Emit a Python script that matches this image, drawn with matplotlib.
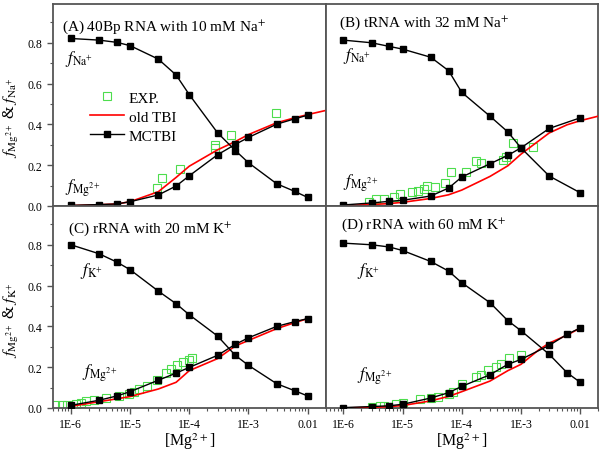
import matplotlib
matplotlib.use('Agg')
import matplotlib.pyplot as plt
from matplotlib.ticker import LogLocator, NullFormatter, MultipleLocator

plt.rcParams['font.family'] = 'Liberation Serif'
plt.rcParams['mathtext.fontset'] = 'stix'

# Mg2+ concentrations used by the MCTBI calculations
mg_conc = [1e-6, 3e-6, 6e-6, 1e-5, 3e-5, 6e-5, 1e-4, 3e-4, 6e-4, 1e-3, 3e-3, 6e-3, 1e-2]
mg_conc_b = [1e-6, 3e-6, 6e-6, 1e-5, 3e-5, 6e-5, 1e-4, 3e-4, 6e-4, 1e-3, 3e-3, 1e-2]
tbi_conc = [1e-6, 3e-6, 6e-6, 1e-5, 3e-5, 6e-5, 1e-4, 3e-4, 6e-4, 1e-3, 3e-3, 6e-3, 1e-2, 2e-2]
tbi_conc_d = [1e-6, 3e-6, 6e-6, 1e-5, 3e-5, 6e-5, 1e-4, 3e-4, 6e-4, 1e-3, 2e-3, 3e-3, 6e-3, 1e-2]

# (A) 40Bp RNA, 10 mM Na+
mono_a = [0.821, 0.813, 0.802, 0.786, 0.720, 0.642, 0.546, 0.359, 0.272, 0.212, 0.109, 0.072, 0.042]
mg_a = [0.003, 0.007, 0.010, 0.021, 0.054, 0.098, 0.148, 0.251, 0.302, 0.336, 0.401, 0.427, 0.445]
tbi_a = [0.002, 0.006, 0.010, 0.021, 0.070, 0.140, 0.195, 0.275, 0.316, 0.350, 0.408, 0.432, 0.448, 0.468]
exp_a_x = [2.9e-5, 3.5e-5, 7.1e-5, 2.75e-4, 2.7e-4, 5.0e-4, 2.95e-3]
exp_a_y = [0.090, 0.139, 0.179, 0.300, 0.282, 0.349, 0.458]

# (B) tRNA, 32 mM Na+
mono_b = [0.813, 0.800, 0.782, 0.769, 0.729, 0.663, 0.557, 0.440, 0.363, 0.285, 0.147, 0.065]
mg_b = [0.005, 0.015, 0.023, 0.028, 0.049, 0.088, 0.142, 0.207, 0.248, 0.285, 0.380, 0.432]
tbi_b = [0.002, 0.007, 0.012, 0.018, 0.037, 0.055, 0.078, 0.145, 0.197, 0.254, 0.358, 0.398, 0.418, 0.440]
exp_b_x = [2.7e-6, 3.5e-6, 4.9e-6, 7.2e-6, 9.1e-6, 1.45e-5, 1.86e-5, 2.3e-5, 2.6e-5, 3.5e-5,
           5.2e-5, 6.5e-5, 1.17e-4, 1.74e-4, 2.1e-4, 4.9e-4, 5.6e-4, 7.2e-4, 1.58e-3]
exp_b_y = [0.021, 0.034, 0.036, 0.045, 0.060, 0.070, 0.075, 0.082, 0.098, 0.092,
           0.115, 0.165, 0.165, 0.220, 0.210, 0.226, 0.241, 0.307, 0.290]

# (C) rRNA, 20 mM K+
mono_c = [0.800, 0.756, 0.715, 0.678, 0.573, 0.511, 0.457, 0.353, 0.258, 0.209, 0.119, 0.085, 0.059]
mg_c = [0.013, 0.038, 0.059, 0.080, 0.136, 0.171, 0.199, 0.258, 0.312, 0.344, 0.400, 0.423, 0.438]
tbi_c = [0.008, 0.031, 0.045, 0.056, 0.093, 0.126, 0.183, 0.242, 0.304, 0.331, 0.389, 0.418, 0.438]
exp_c_x = [5.5e-7, 7.1e-7, 8.7e-7, 1.2e-6, 1.5e-6, 1.8e-6, 2.5e-6, 3.9e-6, 6.5e-6, 9.5e-6,
           1.15e-5, 1.4e-5, 1.9e-5, 2.9e-5, 4.1e-5, 4.9e-5, 6.3e-5, 7.9e-5, 9.8e-5, 1.12e-4]
exp_c_y = [0.014, 0.014, 0.014, 0.021, 0.026, 0.033, 0.038, 0.049, 0.057, 0.070,
           0.078, 0.091, 0.106, 0.136, 0.173, 0.189, 0.209, 0.225, 0.237, 0.247]

# (D) rRNA, 60 mM K+
mono_d = [0.808, 0.800, 0.789, 0.772, 0.718, 0.671, 0.614, 0.516, 0.428, 0.379, 0.263, 0.173, 0.126]
mg_d = [0.002, 0.007, 0.011, 0.018, 0.049, 0.075, 0.106, 0.163, 0.214, 0.238, 0.307, 0.361, 0.392]
tbi_d = [0.000, 0.003, 0.007, 0.012, 0.035, 0.057, 0.080, 0.132, 0.183, 0.214, 0.285, 0.318, 0.357, 0.392]
exp_d_x = [3.1e-6, 4.1e-6, 4.9e-6, 7.8e-6, 1.0e-5, 2.0e-5, 3.0e-5, 3.9e-5, 6.2e-5, 7.1e-5,
           1.02e-4, 1.74e-4, 2.1e-4, 2.75e-4, 3.8e-4, 4.6e-4, 6.3e-4, 1.0e-3]
exp_d_y = [0.007, 0.011, 0.011, 0.020, 0.023, 0.044, 0.047, 0.052, 0.069, 0.077,
           0.117, 0.151, 0.161, 0.184, 0.200, 0.217, 0.245, 0.259]

x_ticks = [1e-6, 1e-5, 1e-4, 1e-3, 1e-2]
x_tick_labels = ['1E-6', '1E-5', '1E-4', '1E-3', '0.01']
y_ticks = [0.0, 0.2, 0.4, 0.6, 0.8]
y_tick_labels = ['0.0', '0.2', '0.4', '0.6', '0.8']

paneles = [
    ('(A) 40Bp RNA with 10 mM Na$^{+}$', 'Na', mg_conc, mono_a, mg_a, tbi_conc, tbi_a, exp_a_x, exp_a_y),
    ('(B) tRNA with 32 mM Na$^{+}$', 'Na', mg_conc_b, mono_b, mg_b, tbi_conc, tbi_b, exp_b_x, exp_b_y),
    ('(C) rRNA with 20 mM K$^{+}$', 'K', mg_conc, mono_c, mg_c, mg_conc, tbi_c, exp_c_x, exp_c_y),
    ('(D) rRNA with 60 mM K$^{+}$', 'K', mg_conc, mono_d, mg_d, tbi_conc_d, tbi_d, exp_d_x, exp_d_y),
]

# label positions (axes fraction): title, f_mono, f_Mg
pos_textos = [
    ((0.033, 0.872), (0.044, 0.713), (0.044, 0.074)),
    ((0.048, 0.890), (0.066, 0.728), (0.066, 0.099)),
    ((0.055, 0.872), (0.100, 0.663), (0.107, 0.158)),
    ((0.057, 0.890), (0.116, 0.663), (0.114, 0.144)),
]

fig, axs = plt.subplots(2, 2, figsize=(6.04, 4.56), dpi=100)
fig.subplots_adjust(left=53/604, right=598/604, top=1-5/456, bottom=1-409/456, wspace=0, hspace=0)

verde = '#4ddd4d'
for i, ax in enumerate(axs.flat):
    titulo, ion, xm, mono, mg, xt, tbi, ex, ey = paneles[i]
    ax.plot(ex, ey, 's', mfc='none', mec=verde, ms=5.5, mew=0.8, label='EXP.', zorder=2)
    ax.plot(xt, tbi, '-', color='red', lw=1.2, label='old TBI', zorder=3)
    ax.plot(xm, mono, '-s', color='black', lw=1.0, ms=4, zorder=4)
    ax.plot(xm, mg, '-s', color='black', lw=1.0, ms=4, label='MCTBI', zorder=4)

    ax.set_xscale('log')
    ax.set_xlim(5e-7, 2e-2)
    ax.set_ylim(0, 0.99)

    (tx, ty), (nx, ny), (mx, my) = pos_textos[i]
    ax.text(tx, ty, titulo, transform=ax.transAxes, fontsize=11, va='baseline')
    ax.text(nx, ny, r'$f_{\mathrm{%s}^{+}}$' % ion, transform=ax.transAxes, fontsize=12, va='baseline')
    ax.text(mx, my, r'$f_{\mathrm{Mg}^{2+}}$', transform=ax.transAxes, fontsize=12, va='baseline')

    for s in ax.spines.values():
        s.set_color('#555555')
        s.set_linewidth(1.3)

    ax.set_xticks(x_ticks)
    ax.xaxis.set_minor_locator(LogLocator(base=10, subs=range(2, 10), numticks=20))
    ax.xaxis.set_minor_formatter(NullFormatter())
    ax.set_yticks(y_ticks)
    ax.yaxis.set_minor_locator(MultipleLocator(0.1))
    ax.tick_params(which='both', direction='out', color='#555555', labelsize=8.5)
    ax.tick_params(which='major', length=4, width=1)
    ax.tick_params(which='minor', length=2, width=0.8)

    if i < 2:
        ax.tick_params(axis='x', which='both', bottom=False, labelbottom=False)
    else:
        ax.set_xticklabels(x_tick_labels)
        ax.set_xlabel('[Mg$^{2+}$]', fontsize=11.5, labelpad=0)
    if i % 2 == 1:
        ax.tick_params(axis='y', which='both', left=False, labelleft=False)
    else:
        ax.set_yticklabels(y_tick_labels)
        ax.set_ylabel(r'$f_{\mathrm{Mg}^{2+}}$ & $f_{\mathrm{%s}^{+}}$' % ion, fontsize=11.5)
        ax.yaxis.set_label_coords(-0.117, 0.44)

axs[0, 0].legend(loc='upper left', bbox_to_anchor=(0.115, 0.60), frameon=False, numpoints=1,
                 fontsize=11, handlelength=2.2, labelspacing=0.35, handletextpad=0.3,
                 borderaxespad=0)

plt.savefig('out.png', dpi=100)
